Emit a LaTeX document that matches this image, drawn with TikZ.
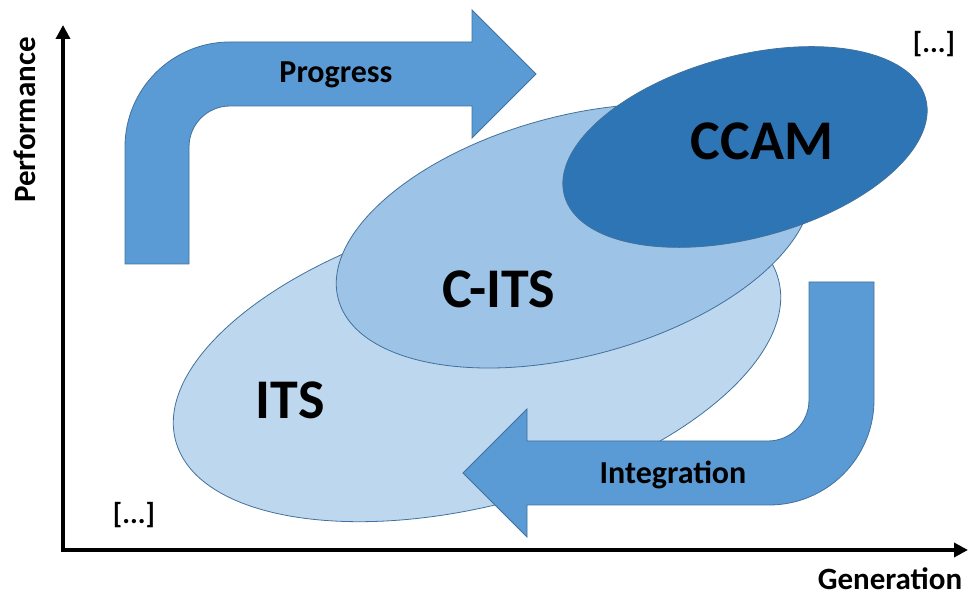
\documentclass[tikz,border=0pt]{standalone}
\usepackage{fontspec}
\setmainfont{Carlito}
\usepackage{tikz}
\usetikzlibrary{arrows.meta}

\definecolor{itsblue}{HTML}{BDD7EE}
\definecolor{citsblue}{HTML}{9DC3E6}
\definecolor{ccamblue}{HTML}{2E75B6}
\definecolor{arrowblue}{HTML}{5B9BD5}
\definecolor{edgeblue}{HTML}{41719C}

\tikzset{
    blob/.style={draw=edgeblue, line width=0.8pt},
    bigarrow/.style={fill=arrowblue, draw=edgeblue, line width=0.8pt},
    axis/.style={line width=4pt, line join=miter,
        {Triangle[length=14pt,width=14pt]}-{Triangle[length=14pt,width=14pt]}},
    biglabel/.style={font=\bfseries\fontsize{56}{60}\selectfont},
    arrowlabel/.style={font=\bfseries\fontsize{32}{36}\selectfont},
    axislabel/.style={font=\bfseries\fontsize{31}{35}\selectfont},
    dotslabel/.style={font=\bfseries\fontsize{29}{33}\selectfont},
}

\begin{document}
\begin{tikzpicture}[x=1pt,y=1pt]
    \useasboundingbox (0,0) rectangle (969,596);

    % Progress arrow (behind the ellipses)
    \draw [bigarrow] (125,332) -- (125,449) arc (180:90:105) -- (472,554)
        -- (472,586) -- (536,522) -- (472,458) -- (472,490) -- (230,490)
        arc (90:180:41) -- (189,332) -- cycle;
    \node [arrowlabel] (progress) at (336,521) {Progress};

    % ITS, C-ITS, CCAM
    \draw [blob, fill=itsblue] (477,236) ellipse [x radius=312, y radius=145, rotate=15];
    \draw [blob, fill=citsblue] (574,360) ellipse [x radius=244, y radius=120, rotate=15];
    \draw [blob, fill=ccamblue] (745,449) ellipse [x radius=187, y radius=91, rotate=15];
    \node [biglabel] (its) at (290,196) {ITS};
    \node [biglabel] (cits) at (499,307) {C-ITS};
    \node [biglabel] (ccam) at (762,455) {CCAM};

    % Integration arrow (in front)
    \draw [bigarrow] (809,314) -- (874,314) -- (874,196) arc (0:-90:105)
        -- (527,91) -- (527,59) -- (463,123) -- (527,187) -- (527,155)
        -- (768,155) arc (-90:0:41) -- cycle;
    \node [arrowlabel] (integration) at (673,121) {Integration};

    % Axes
    \coordinate (origin) at (63,46);
    \coordinate (ytop) at (63,571);
    \coordinate (xend) at (968,46);
    \draw [axis] (ytop) -- (origin) -- (xend);
    \node [axislabel, rotate=90] (perf) at (25,476) {Performance};
    \node [axislabel, anchor=base] (gen) at (890,6) {Generation};

    \node [dotslabel] (moretop) at (934,552) {[...]};
    \node [dotslabel] (morebottom) at (134,81) {[...]};
\end{tikzpicture}
\end{document}
